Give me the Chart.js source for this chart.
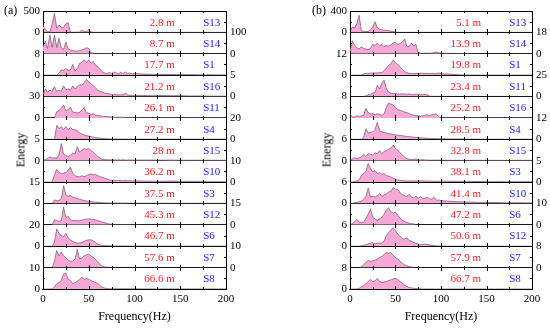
<!DOCTYPE html>
<html>
<head>
<meta charset="utf-8">
<script src="https://cdn.jsdelivr.net/npm/chart.js@4.4.0/dist/chart.umd.min.js"></script>
<style>
  html, body { margin: 0; padding: 0; background: #fff; }
  #wrap { position: relative; width: 550px; height: 329px; font-family: "Liberation Serif", "Times New Roman", serif; color: #000; }
  canvas { position: absolute; top: 0; }
  #cA { left: 0; }
  #cB { left: 275px; }
  .tag { position: absolute; font-size: 12px; line-height: 14px; }
  .ylab { position: absolute; font-size: 12px; white-space: nowrap; transform: translate(-50%, -50%) rotate(-90deg); }
</style>
</head>
<body>
<div id="wrap">
  <canvas id="cA" width="275" height="329"></canvas>
  <canvas id="cB" width="275" height="329"></canvas>
  <div class="tag" style="left:4px;top:3px">(a)</div>
  <div class="tag" style="left:312px;top:3px">(b)</div>
  <div class="ylab" style="left:21px;top:150px">Energy</div>
  <div class="ylab" style="left:327px;top:150px">Energy</div>
</div>
<script>
// frequency grid (Hz)
const freq = [0,2.5,5,7.5,10,12.5,15,17.5,20,22.5,
  25,27.5,30,32.5,35,37.5,40,42.5,45,47.5,
  50,52.5,55,57.5,60,62.5,65,67.5,70,72.5,
  75,77.5,80,82.5,85,87.5,90,92.5,95,97.5,
  100,110,120,130,140,150,160,170,180,190,200];

// panel (a)
const namesA = ['S13','S14','S1','S16','S11','S4','S15','S10','S3','S12','S6','S7','S8'];
const distA = ['2.8 m','8.7 m','17.7 m','21.2 m','26.1 m','27.2 m','28 m','36.2 m','37.5 m','45.3 m','46.7 m','57.6 m','66.6 m'];
const maxA = [500,100,8,5,30,20,5,10,15,15,20,10,10];

const a_S13 = [170,60,20,15,200,445,100,170,120,115,
  200,226,8,5,5,5,10,55,20,15,
  70,10,4,2,2,2,2,2,2,2,
  2,2,2,2,2,2,2,2,2,2,
  2,1,1,1,1,1,1,1,1,1,1];
const a_S14 = [30,60,25,88,30,88,30,72,28,20,
  55,22,18,15,13,13,15,18,22,28,
  25,5,2,1.5,1.5,1.2,1.2,1,1,1,
  1,1,1,1,1,1,1,1,1,1,
  1,0.8,0.8,0.6,0.6,0.5,0.5,0.5,0.5,0.5,0.5];
const a_S1 = [0,0,0,0,0,0,0,0.8,2,1.8,
  2.4,1.8,2,4,1.6,2.4,4.4,4.8,5.8,4.8,
  5.8,4.4,5.2,3.6,3.2,2,1.2,0.8,0.6,1,
  0.6,1.2,0.8,0.6,1,0.6,1.2,0.6,0.8,0.5,
  0.6,0.4,0.3,0.3,0.25,0.2,0.2,0.15,0.15,0.1,0.1];
const a_S16 = [0.4,1.8,1.0,1.5,1.2,2.3,1.2,1.5,1.2,2.5,
  1.6,1.8,1.5,2.5,1.8,2.2,2.8,2.6,3.2,4.0,
  3.4,3.0,2.5,2.0,1.5,1.2,1.0,0.8,0.7,0.6,
  0.5,0.5,0.4,0.4,0.4,0.4,0.8,0.35,0.3,0.3,
  0.3,0.25,0.2,0.25,0.2,0.2,0.15,0.15,0.1,0.1,0.1];
const a_S11 = [0,0,0,0,0,0,9,10,14,18,
  10,12,15,8,8,7,8,11,15,7,
  7,5,6,4,3.5,3,2.5,2,2,1.5,
  1.5,1.2,1,1,1,0.8,0.8,0.6,0.6,0.5,
  0.5,0.3,0.3,0.2,0.2,0.2,0.1,0.1,0.1,0.1,0.1];
const a_S4 = [0,0,0,0,0,0,13,10,12,9,
  12,9,11,9,9,8,6,5,4,3.5,
  3,2.5,2,1.6,1.3,1,0.8,0.6,0.5,0.4,
  0.3,0.3,0.25,0.25,0.25,0.2,0.2,0.2,0.2,0.2,
  0.2,0.15,0.15,0.1,0.1,0.1,0.1,0.1,0.1,0.1,0.1];
const a_S15 = [0.1,0.3,0.5,0.9,0.6,0.7,0.5,1.5,4.0,1.5,
  1.2,1.0,1.3,1.8,1.6,3.3,2.0,2.5,2.8,2.7,
  2.8,2.4,2.0,1.5,1.0,0.6,0.3,0.25,0.2,0.2,
  0.2,0.2,0.15,0.2,0.15,0.2,0.15,0.15,0.2,0.15,
  0.15,0.15,0.15,0.12,0.15,0.12,0.1,0.12,0.1,0.1,0.1];
const a_S10 = [0,0,0,0,0,3.5,6.0,4.5,4.0,4.2,
  4.5,5.5,7.0,4.0,3.0,2.6,2.5,3.0,2.5,3.0,
  3.5,3.8,3.5,3.6,3.0,2.5,2.2,1.8,1.5,1.0,
  0.8,0.8,0.7,0.8,0.7,0.6,0.8,0.6,0.7,0.5,
  0.6,0.5,0.4,0.4,0.5,0.3,0.3,0.3,0.2,0.2,0.2];
const a_S3 = [0,0,0,0,0,2.5,2.0,2.0,3.5,12.5,
  6.0,5.0,5.5,4.5,4.0,3.5,3.0,2.5,2.0,1.8,
  1.5,1.5,1.0,0.9,0.8,0.6,0.5,0.5,0.4,0.4,
  0.3,0.3,0.3,0.3,0.25,0.25,0.25,0.2,0.2,0.2,
  0.2,0.15,0.15,0.15,0.1,0.1,0.1,0.1,0.1,0.1,0.1];
const a_S12 = [0,0,0,0,0,3.5,3.0,2.5,3.0,12.5,
  5.0,6.0,3.5,3.0,3.0,2.8,3.0,3.2,3.8,4.0,
  4.2,4.0,3.8,3.5,3.0,2.5,1.8,1.5,1.0,0.6,
  0.5,0.4,0.3,0.3,0.25,0.25,0.2,0.2,0.2,0.2,
  0.2,0.15,0.15,0.1,0.1,0.1,0.1,0.1,0.1,0.1,0.1];
const a_S6 = [0,0,0,0,0,4,16,12,10,9,
  12,8,6,4.5,3.5,3,3,3.5,4.5,5.5,
  6,6,5,3.5,2,1.2,0.8,0.6,0.5,0.4,
  0.4,0.3,0.3,0.3,0.3,0.25,0.25,0.2,0.2,0.2,
  0.2,0.15,0.15,0.1,0.1,0.1,0.1,0.1,0.1,0.1,0.1];
const a_S7 = [0,0,0,0,0,3,8,5.5,7.3,5.5,
  4.5,3.5,3.0,3.0,4.0,8.5,4.0,4.5,5.5,6.0,
  6.2,5.5,4.8,3.8,2.5,1.5,0.6,0.3,0.2,0.15,
  0.1,0.1,0.1,0.1,0.1,0.1,0.1,0.1,0.1,0.1,
  0.1,0.1,0.1,0.05,0.05,0.05,0.05,0.05,0.05,0.05,0.05];
const a_S8 = [0,0,0,0,0,1.0,2.5,3.0,4.0,7.0,
  7.5,4.5,4.0,2.5,3.0,3.5,4.5,5.5,4.5,5.0,
  4.5,4.0,3.5,3.0,2.5,1.5,0.8,0.4,0.2,0.1,
  0.1,0.1,0.1,0.1,0.1,0.1,0.1,0.1,0.1,0.1,
  0.1,0.05,0.05,0.05,0.05,0.05,0.05,0.05,0.05,0.05,0.05];

// panel (b)
const namesB = ['S13','S14','S1','S11','S16','S4','S15','S3','S10','S6','S12','S7','S8'];
const distB = ['5.1 m','13.9 m','19.8 m','23.4 m','25.2 m','28.5 m','32.8 m','38.1 m','41.4 m','47.2 m','50.6 m','57.9 m','66.7 m'];
const maxB = [400,18,12,25,8,12,6,5,6,10,6,8,8];

const b_S13 = [20,100,80,160,320,30,20,15,20,50,
  100,200,90,60,50,40,40,30,25,15,
  5,2,0,0,0,0,0,0,0,0,
  0,0,0,0,0,0,0,0,0,0,
  0,0,0,0,0,0,0,0,0,0,0];
const b_S14 = [2,11,7,5,4,6,4.5,4,3.5,4.5,
  8,7,9,7,8,6,7,6.5,7.5,9,
  9.5,8,8.5,10,12.5,6,6,9,6.5,8,
  1.0,0.6,0.5,0.5,0.5,0.5,0.6,1.2,1.5,0.8,
  0.5,0.3,0.2,0.2,0.1,0.1,0.1,0.1,0.1,0.1,0.1];
const b_S1 = [0,0,0,0,0,0,0.8,1.0,1.0,1.1,
  1.2,1.2,1.3,1.4,1.5,2.5,4.0,5.5,6.5,8.5,
  7.0,6.0,4.5,3.5,2.0,1.4,1.0,1.0,0.9,1.0,
  0.9,1.1,1.0,0.9,1.0,0.8,1.0,0.8,1.0,1.2,
  0.8,0.6,0.2,0.05,0.05,0.05,0.05,0.05,0.05,0.05,0.05];
const b_S11 = [0,0,0,0,0,0,0,1,2,2.5,
  4,5,13,9,16,19,9,5,4,3.5,
  3.5,3,3,3.2,3,2.8,3,2.5,2.5,2.8,
  2.5,2.5,2.2,2.5,2.0,0.5,0.3,0.2,0.2,0.2,
  0.2,0.15,0.1,0.1,0.1,0.1,0.1,0.1,0.1,0.1,0.1];
const b_S16 = [1.4,0.4,0.4,0.8,0.6,0.8,1.0,3.6,2.0,1.5,
  1.6,1.2,1.5,1.4,1.0,1.5,4.0,5.6,5.2,4.8,
  3.8,3.2,2.8,2.5,2.2,2.0,1.6,1.3,1.0,0.8,
  0.8,0.7,0.8,1.0,1.2,0.9,1.2,1.3,1.5,0.4,
  0.2,0.1,0.1,0.1,0.1,0.1,0.1,0.1,0.1,0.1,0.1];
const b_S4 = [0,0,0,0,0,0,1.0,6.0,3.5,3.8,
  4.2,5.5,9.5,5.0,4.2,3.8,3.5,3.2,3.0,2.7,
  2.5,2.3,2.2,2.0,1.8,1.6,1.5,1.4,1.2,1.1,
  1.0,0.9,0.8,0.7,0.6,0.5,0.5,0.4,0.4,0.3,
  0.3,0.2,0.2,0.1,0.05,0.05,0.05,0.05,0.05,0.05,0.05];
const b_S15 = [0.3,0.5,0.8,0.6,0.8,1.0,1.8,1.2,2.0,1.8,
  1.6,2.2,2.0,2.8,2.0,2.6,2.8,3.2,3.6,4.4,
  3.4,3.0,2.2,1.6,1.0,0.6,0.4,0.35,0.4,0.45,
  0.3,0.25,0.25,0.2,0.2,0.15,0.15,0.15,0.15,0.15,
  0.15,0.1,0.1,0.1,0.1,0.1,0.1,0.1,0.1,0.1,0.1];
const b_S3 = [0,0,0.1,0.3,0.5,1.5,2.0,2.5,4.4,3.2,
  2.4,2.7,2.0,2.2,1.8,2.0,1.5,1.4,1.2,0.9,
  0.7,0.5,0.4,0.3,0.3,0.25,0.3,0.25,0.3,0.25,
  0.3,0.25,0.3,0.25,0.25,0.2,0.25,0.2,0.2,0.2,
  0.2,0.2,0.15,0.15,0.15,0.1,0.1,0.1,0.1,0.1,0.1];
const b_S10 = [0,0,0.2,0.3,0.5,0.6,1.2,2.0,4.3,1.8,
  2.0,1.8,2.2,2.8,2.0,2.4,2.7,3.2,3.4,4.5,
  4.0,4.0,3.0,2.5,2.2,2.0,2.6,1.8,1.6,2.0,
  1.5,1.9,1.4,1.5,1.8,1.2,1.3,1.7,0.9,1.0,
  0.8,0.6,0.5,0.4,0.3,0.3,0.25,0.2,0.2,0.2,0.15];
const b_S6 = [0,0.5,1.5,2.5,1.5,1.0,1.2,3.0,5.0,7.5,
  3.5,2.8,2.0,2.8,3.5,5.0,7.0,8.0,6.0,5.5,
  6.0,4.5,3.0,2.2,1.5,1.2,0.8,0.6,0.4,0.2,
  0.1,0.05,0.05,0.05,0.05,0.05,0.05,0.05,0.05,0.05,
  0.05,0,0,0,0,0,0,0,0,0,0];
const b_S12 = [0,0,0,0,0,0.1,0.3,0.4,0.7,0.8,
  1.0,0.7,0.8,0.9,0.9,1.5,3.0,3.8,4.6,5.2,
  4.4,3.4,2.8,2.2,2.0,2.4,1.6,1.4,1.1,0.8,
  0.6,0.5,0.5,0.6,0.5,0.4,0.3,0.2,0.1,0.05,
  0.05,0,0,0,0,0,0,0,0,0,0];
const b_S7 = [0,0,0,0,0,0.3,1.0,2.0,2.8,2.4,
  2.5,2.8,3.2,3.8,4.2,5.0,5.6,5.4,5.6,4.6,
  3.8,3.2,2.4,1.6,1.0,0.7,0.4,0.2,0.1,0,
  0,0,0,0,0,0,0,0,0,0,
  0,0,0,0,0,0,0,0,0,0,0];
const b_S8 = [0,0,0,0,0.3,0.8,1.2,2.0,2.8,3.6,
  2.8,3.0,4.0,2.8,2.5,2.6,2.8,3.2,3.4,3.8,
  4.0,3.5,2.8,2.2,1.5,1.0,0.6,0.4,0.3,0.15,
  0.1,0.05,0,0,0,0,0,0,0,0,
  0,0,0,0,0,0,0,0,0,0,0];

const seriesA = [a_S13,a_S14,a_S1,a_S16,a_S11,a_S4,a_S15,a_S10,a_S3,a_S12,a_S6,a_S7,a_S8];
const seriesB = [b_S13,b_S14,b_S1,b_S11,b_S16,b_S4,b_S15,b_S3,b_S10,b_S6,b_S12,b_S7,b_S8];

const FILL = '#f6a8d6';
const EDGE = 'rgba(95,75,95,0.9)';
const SERIF = '"Liberation Serif", "Times New Roman", serif';

Chart.defaults.font.family = SERIF;
Chart.defaults.font.size = 11;
Chart.defaults.color = '#000';

// inward ticks on every sub-panel plus the red / blue row texts
const rowDecor = {
    id: 'rowDecor',
    afterDraw(chart, args, opts) {
        const ctx = chart.ctx;
        const xs = chart.scales.x;
        const { left, right } = chart.chartArea;
        ctx.save();
        ctx.strokeStyle = '#000';
        ctx.lineWidth = 1;
        ctx.beginPath();
        opts.names.forEach((name, r) => {
            const ys = chart.scales['y' + r];
            const top = Math.round(ys.top);
            const bot = Math.round(ys.bottom);
            for (let v = 0; v <= 200; v += 25) {
                const px = Math.round(xs.getPixelForValue(v)) + 0.5;
                const len = v % 50 === 0 ? 3 : 2;
                ctx.moveTo(px, top); ctx.lineTo(px, top + len);
                ctx.moveTo(px, bot); ctx.lineTo(px, bot - len);
            }
            const mid = Math.round(ys.getPixelForValue(ys.max / 2)) + 0.5;
            ctx.moveTo(left, mid); ctx.lineTo(left + 2, mid);
            ctx.moveTo(right, mid); ctx.lineTo(right - 2, mid);
        });
        ctx.stroke();

        ctx.font = '11px ' + SERIF;
        ctx.textBaseline = 'middle';
        opts.names.forEach((name, r) => {
            const ys = chart.scales['y' + r];
            const cy = (ys.top + ys.bottom) / 2 + 1;
            ctx.fillStyle = '#ff1a1a';
            ctx.textAlign = 'right';
            ctx.fillText(opts.dists[r], xs.getPixelForValue(144), cy);
            ctx.fillStyle = '#1a1aff';
            ctx.textAlign = 'left';
            ctx.fillText(name, xs.getPixelForValue(175), cy);
        });
        ctx.restore();
    }
};

function buildPanel(canvasId, names, dists, maxes, series, leftW, rightW) {
    const scales = {
        x: {
            type: 'linear', position: 'bottom', min: 0, max: 200,
            ticks: { stepSize: 50, padding: 4, maxRotation: 0 },
            grid: { display: false, drawTicks: false },
            border: { display: true, color: '#000', width: 1 },
            title: { display: true, text: 'Frequency(Hz)', font: { size: 12 }, padding: { top: 0, bottom: 5 } },
            afterFit: s => { s.height = 40; }
        }
    };
    const datasets = [];

    names.forEach((name, r) => {
        const onLeft = r % 2 === 0;
        scales['y' + r] = {
            type: 'linear', position: 'left', stack: 'L', stackWeight: 1, weight: 20 - r,
            min: 0, max: maxes[r], z: 1,
            ticks: { display: onLeft, stepSize: maxes[r], padding: 3, autoSkip: false },
            grid: { drawOnChartArea: true, drawTicks: false, color: '#000', lineWidth: 1 },
            border: { display: true, color: '#000', width: 1 },
            afterFit: s => { s.width = leftW; }
        };
        scales['r' + r] = {
            type: 'linear', position: 'right', stack: 'R', stackWeight: 1, weight: r,
            min: 0, max: maxes[r],
            ticks: { display: !onLeft, stepSize: maxes[r], padding: 4, autoSkip: false },
            grid: { display: false, drawTicks: false },
            border: { display: true, color: '#000', width: 1 },
            afterFit: s => { s.width = rightW; }
        };
        datasets.push({
            label: name,
            data: freq.map((f, i) => ({ x: f, y: series[r][i] })),
            xAxisID: 'x',
            yAxisID: 'y' + r,
            fill: 'origin',
            backgroundColor: FILL,
            borderColor: EDGE,
            borderWidth: 0.7,
            pointRadius: 0,
            tension: 0
        });
    });

    return new Chart(document.getElementById(canvasId), {
        type: 'line',
        data: { datasets },
        options: {
            responsive: false,
            animation: false,
            devicePixelRatio: 1,
            layout: { padding: { top: 11, left: 0, right: 0, bottom: 0 } },
            plugins: {
                legend: { display: false },
                tooltip: { enabled: false },
                rowDecor: { names, dists }
            },
            scales
        },
        plugins: [rowDecor]
    });
}

buildPanel('cA', namesA, distA, maxA, seriesA, 43, 49);
buildPanel('cB', namesB, distB, maxB, seriesB, 75, 18);
</script>
</body>
</html>
